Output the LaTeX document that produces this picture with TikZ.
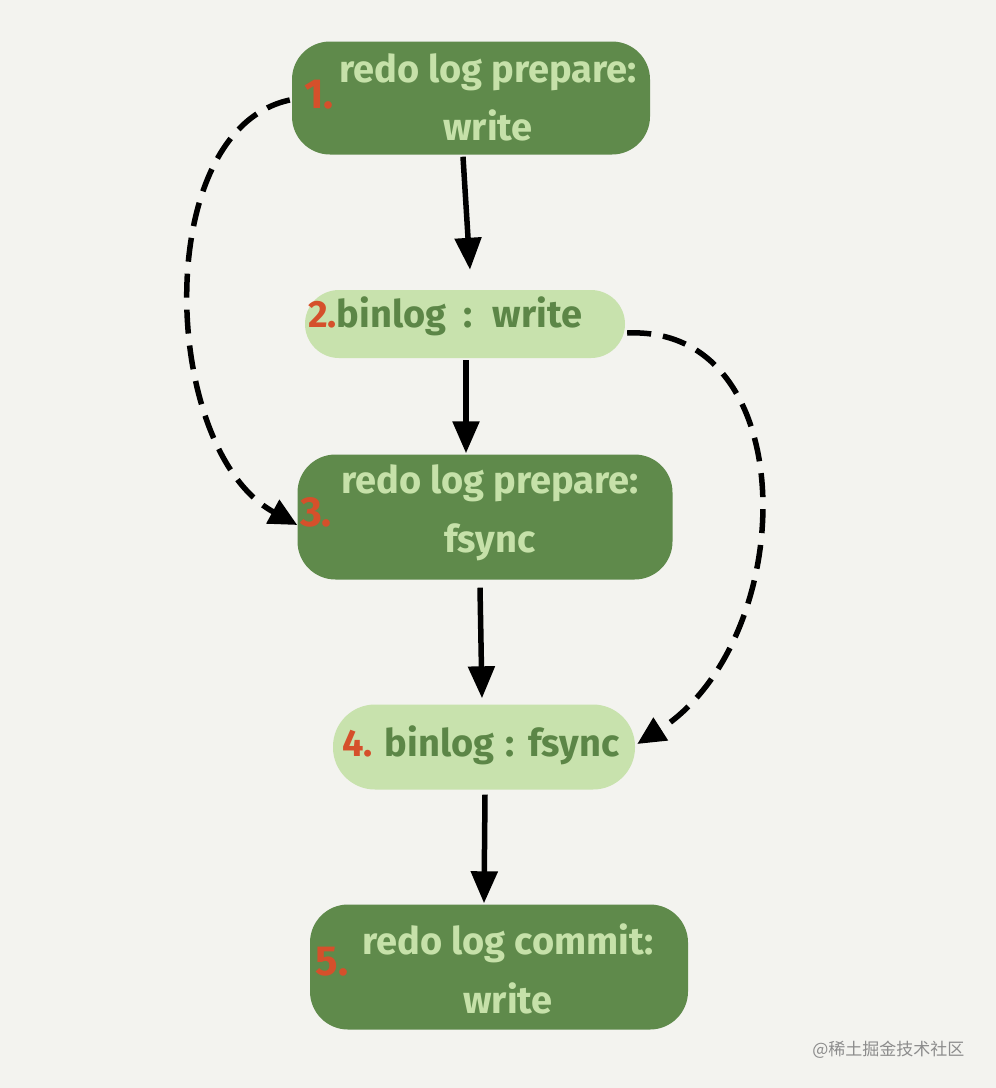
\documentclass[tikz,border=0pt]{standalone}
\usepackage{fontspec}
\setmainfont{Fira Sans}
\newfontfamily\cjk{Noto Sans CJK SC}
\usetikzlibrary{arrows.meta}
\definecolor{bgc}{HTML}{F3F3EF}
\definecolor{dkg}{HTML}{5F8A4B}
\definecolor{ltg}{HTML}{C8E2AD}
\definecolor{ltxt}{HTML}{C6E1A9}
\definecolor{dtxt}{HTML}{5C8647}
\definecolor{redn}{HTML}{D5502B}
\tikzset{
  dbox/.style={fill=dkg, draw=none, rounded corners=38pt, inner sep=0pt},
  lbox/.style={fill=ltg, draw=none, rounded corners=34pt, inner sep=0pt},
  ltext/.style={text=ltxt, font=\fontsize{38}{40}\selectfont\bfseries, inner sep=0pt},
  dtext/.style={text=dtxt, font=\fontsize{38}{40}\selectfont\bfseries, inner sep=0pt},
  num/.style={text=redn, font=\fontsize{42}{44}\selectfont\bfseries, inner sep=0pt},
  arr/.style={line width=5.5pt, -{Triangle[length=32pt,width=26pt]}},
  darr/.style={line width=5.5pt, dash pattern=on 24pt off 12pt, -{Triangle[length=28pt,width=26pt]}}
}
\begin{document}
\begin{tikzpicture}[x=1pt,y=-1pt]
\fill[bgc] (0,0) rectangle (996,1088);
\useasboundingbox (0,0) rectangle (996,1088);
% boxes
\node[dbox, minimum width=358pt, minimum height=113pt] (b1) at (471,98) {};
\node[lbox, minimum width=320pt, minimum height=68pt] (b2) at (465,324) {};
\node[dbox, minimum width=375pt, minimum height=125pt] (b3) at (485,517) {};
\node[lbox, rounded corners=42pt, minimum width=302pt, minimum height=85pt] (b4) at (484,747) {};
\node[dbox, minimum width=378pt, minimum height=125pt] (b5) at (499,967) {};
% texts
\node[ltext] (t1a) at (488,72) {redo log prepare:};
\node[ltext] (t1b) at (488,125) {write};
\node[num] (n1) at (319,95) {1.};
\node[dtext, anchor=west] (t2) at (308,316) {\textcolor{redn}{2.}binlog\hspace{8pt} : \hspace{8pt}write};
\node[ltext] (t3a) at (490,483) {redo log prepare:};
\node[ltext] (t3b) at (490,542) {fsync};
\node[num] (n3) at (316,512) {3.};
\node[dtext, anchor=west] (t4) at (342,745) {\textcolor{redn}{4.} binlog\hspace{2pt} : \hspace{2pt}fsync};
\node[ltext] (t5a) at (508,943) {redo log commit:};
\node[ltext] (t5b) at (508,998) {write};
\node[num] (n5) at (332,962) {5.};
% solid arrows
\draw[arr] ([xshift=-8pt,yshift=-2pt]b1.south) -- ([xshift=5pt,yshift=20pt]b2.north);
\draw[arr] ([xshift=1pt,yshift=-2pt]b2.south) -- ([xshift=-19pt,yshift=1pt]b3.north);
\draw[arr] ([xshift=-5pt,yshift=-8pt]b3.south) -- ([xshift=-2pt,yshift=6pt]b4.north);
\draw[arr] ([xshift=1pt,yshift=-5pt]b4.south) -- ([xshift=-15pt,yshift=1pt]b5.north);
% dashed arrows
\coordinate (s1) at ([xshift=-2pt,yshift=-2pt]b1.west);
\coordinate (e1) at ([xshift=0pt,yshift=-8pt]b3.west);
\draw[darr] (s1) .. controls (150,130) and (160,450) .. (e1);
\coordinate (s2) at ([xshift=2pt,yshift=-9pt]b2.east);
\coordinate (e2) at ([xshift=2pt,yshift=3pt]b4.east);
\draw[darr] (s2) .. controls (805,325) and (800,640) .. (e2);
% watermark
\node[text=black!45, font=\cjk\fontsize{17}{19}\selectfont, anchor=east] (wm) at (968,1050) {@稀土掘金技术社区};
\end{tikzpicture}
\end{document}
